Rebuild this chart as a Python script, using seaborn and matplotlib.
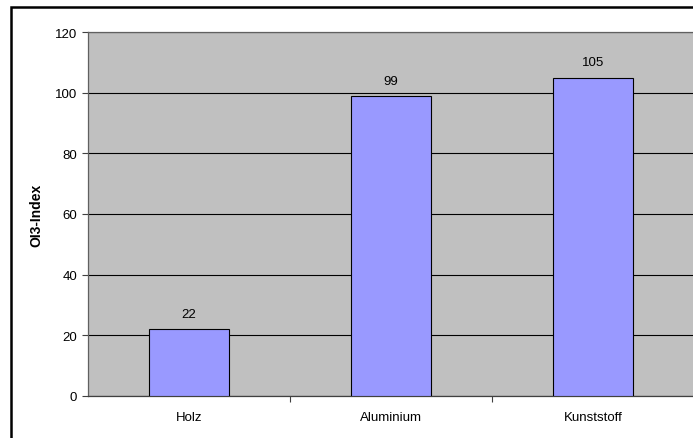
import matplotlib
matplotlib.use("Agg")
import matplotlib.pyplot as plt
import seaborn as sns
import pandas as pd
from matplotlib.patches import Rectangle
from matplotlib.ticker import FixedLocator

categories = ["Holz", "Aluminium", "Kunststoff"]
values = [22, 99, 105]
yticks = [0, 20, 40, 60, 80, 100, 120]

sns.set_style("white")
plt.rcParams['font.family'] = ['Liberation Sans', 'DejaVu Sans']
plt.rcParams['text.color'] = 'black'
plt.rcParams['xtick.color'] = 'black'
plt.rcParams['ytick.color'] = 'black'
plt.rcParams['axes.labelcolor'] = 'black'

df = pd.DataFrame({"Material": categories, "OI3": values})

fig = plt.figure(figsize=(6.93, 4.39), dpi=100)
ax = fig.add_axes([88/693, 1 - 397/439, (694 - 88)/693, (397 - 33)/439])
ax.set_facecolor("#C0C0C0")

sns.barplot(data=df, x="Material", y="OI3", color="#9999FF", saturation=1,
            width=0.4, edgecolor="black", linewidth=0.8, ax=ax, zorder=3)

ax.set_ylim(0, 120)
ax.set_xlim(-0.5, 2.5)
ax.set_yticks(yticks)
ax.yaxis.grid(True, color="black", linewidth=0.8, zorder=1)
ax.set_axisbelow(True)

for i, v in enumerate(values):
    ax.text(i, v + 4.0, str(v), ha="center", va="baseline", fontsize=9.5)

ax.set_xlabel("")
ax.set_ylabel("OI3-Index", fontsize=10, fontweight="bold", labelpad=8)
ax.tick_params(axis="y", labelsize=9.5, length=4.3, width=0.8, color="#404040", direction="out", left=True, pad=3.5)
ax.tick_params(axis="x", which="major", labelsize=9.5, length=0, pad=11)
ax.xaxis.set_minor_locator(FixedLocator([0.5, 1.5]))
ax.tick_params(axis="x", which="minor", length=4.3, width=0.8, color="#404040", direction="out", bottom=True)

for s in ["left", "bottom", "top"]:
    ax.spines[s].set_visible(True)
    ax.spines[s].set_color("#606060")
    ax.spines[s].set_linewidth(0.9)
ax.spines["bottom"].set_color("#404040")
ax.spines["right"].set_visible(False)

fig.patches.append(Rectangle((11/693, -0.2), 1.5, 1.2 - 7.5/439,
                             transform=fig.transFigure, fill=False,
                             edgecolor="black", linewidth=1.8, zorder=10))

fig.savefig("out.png", dpi=100)
